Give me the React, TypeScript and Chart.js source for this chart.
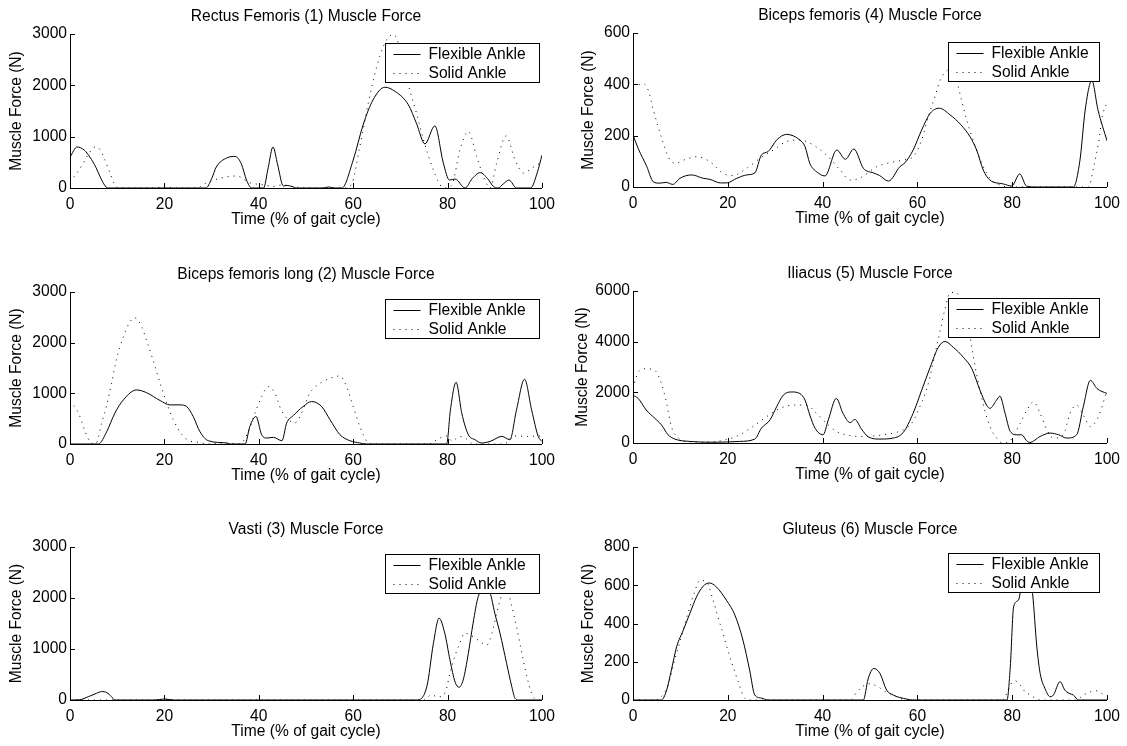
import React, { useEffect, useRef } from "react";
import { Chart, registerables } from "chart.js";

Chart.register(...registerables);

type Pt = [number, number];

const FONT = '"Liberation Sans", Arial, Helvetica, sans-serif';
Chart.defaults.font.family = FONT;

// ---------- labels ----------
const seriesNames = ["Flexible Ankle", "Solid Ankle"];
const xAxisLabel = "Time (% of gait cycle)";
const yAxisLabel = "Muscle Force (N)";
const xTickValues = [0, 20, 40, 60, 80, 100];
const panelTitles = [
  "Rectus Femoris (1) Muscle Force",
  "Biceps femoris (4) Muscle Force",
  "Biceps femoris long (2) Muscle Force",
  "Iliacus (5) Muscle Force",
  "Vasti (3) Muscle Force",
  "Gluteus (6) Muscle Force",
];
const yTickValues = [
  [0, 1000, 2000, 3000],
  [0, 200, 400, 600],
  [0, 1000, 2000, 3000],
  [0, 2000, 4000, 6000],
  [0, 1000, 2000, 3000],
  [0, 200, 400, 600, 800],
];

// ---------- data: [time %, force N] ----------
const rectusFlexible: Pt[] = [
  [0, 600], [1.5, 800], [3, 740], [4.2, 605], [5.5, 400], [6.4, 215], [7.3, 60], [8, 0],
  [28.8, 0], [30, 180], [31, 410], [33.2, 585], [35, 615], [36.3, 470], [37.4, 155], [38.5, 0],
  [41, 0], [42, 400], [43, 800], [44, 450], [45.2, 40], [46, 50], [47, 30], [48, 0],
  [53.5, 0], [54.8, 20], [56, 0], [57.6, 0], [60, 545], [62.1, 1230], [64.2, 1716], [66.7, 1963],
  [68.9, 1880], [71.7, 1620], [73.4, 1260], [75.2, 860], [77.3, 1210], [79.1, 485], [80.4, 155],
  [81.6, 175], [83.7, 0], [85.2, 180], [86.9, 300], [88.5, 180], [89.7, 30], [90.7, 0], [91.8, 80],
  [93, 155], [94.6, 0], [97.6, 0], [99, 300], [100, 640],
];
const rectusSolid: Pt[] = [
  [0, 120], [1.4, 287], [2.8, 482], [3.8, 644], [5.3, 800], [6.4, 741], [7.4, 546], [8.5, 287],
  [9.5, 59], [10.5, 0], [18, 0], [20, 30], [22, 0], [27, 0], [28.4, 78], [31.8, 189], [35.3, 234],
  [38.1, 103], [41, 60], [43, 30], [45, 60], [47, 30], [50, 0], [58, 0], [59.6, 65], [61.4, 805],
  [63.2, 1655], [65, 2366], [66.7, 2825], [68.5, 2990], [70, 2700], [71.6, 2040], [73.4, 1460],
  [74.9, 935], [76.6, 450], [78.4, 60], [79.5, 0], [81, 80], [82.6, 740], [84.4, 1100], [86.2, 600],
  [87.9, 155], [89, 0], [90.4, 485], [92.4, 1015], [94.3, 545], [96.1, 290], [98, 400], [100, 500],
];

const bicepsFlexible: Pt[] = [
  [0, 203], [1.1, 150], [2.9, 80], [4.3, 20], [5.6, 15], [7, 18], [8.4, 10], [9.9, 34], [12.4, 47],
  [14.8, 34], [16.2, 30], [18.4, 16], [19.8, 16], [21.9, 34], [24, 47], [25.7, 55], [27.1, 125],
  [28.5, 138], [30.3, 183], [32.4, 205], [35.2, 183], [36.3, 157], [37.3, 92], [38.7, 60],
  [40.5, 43], [43, 144], [44.8, 108], [46.6, 148], [48.6, 73], [50.7, 55], [52, 45], [53.9, 23],
  [56.3, 79], [57.4, 95], [59.1, 144], [60.9, 222], [62.7, 287], [64.6, 307], [66.9, 281],
  [69.2, 242], [71.1, 196], [72.5, 144], [73.9, 66], [75.3, 27], [78.1, 12], [79.9, 4], [81.6, 51],
  [83, 4], [85, 0], [92.9, 0], [94.3, 105], [95.4, 300], [96.8, 415], [98.1, 300], [100, 180],
];
const bicepsSolid: Pt[] = [
  [0, 391], [2.2, 402], [3.2, 378], [4.3, 300], [5.3, 235], [6.4, 170], [7.4, 118], [8.9, 92],
  [10.7, 105], [13.4, 118], [16.2, 99], [19, 53], [21.1, 45], [24, 73], [26.8, 112], [29.6, 144],
  [32.4, 177], [35.2, 183], [38, 164], [40.8, 125], [43.7, 66], [45.8, 27], [47.9, 35], [51.4, 79],
  [54.2, 95], [57, 105], [59.1, 118], [60.9, 183], [62.3, 274], [63.7, 352], [64.8, 417], [66, 450],
  [67, 460], [68.3, 411], [69.3, 339], [70.4, 261], [71.5, 196], [72.5, 144], [73.9, 79],
  [75.6, 27], [77.4, 8], [79, 0], [96.1, 0], [97.2, 79], [98.3, 183], [99, 274], [100, 330],
];

const bflFlexible: Pt[] = [
  [0, 0], [6, 0], [7.8, 248], [9.5, 609], [11.3, 870], [14.1, 1067], [16.2, 1014], [19.1, 857],
  [21.2, 772], [23.3, 772], [24.7, 740], [26.1, 543], [27.5, 248], [29.3, 65], [33.2, 20], [34, 0],
  [37.1, 0], [38.1, 346], [39.4, 543], [40.6, 183], [41.7, 118], [43.1, 131], [44.9, 65],
  [45.9, 412], [47.3, 560], [49.4, 740], [51.2, 838], [53.3, 740], [55.1, 478], [57.2, 183],
  [59.3, 65], [61.4, 20], [62.7, 0], [79.8, 0], [80.6, 674], [81.8, 1218], [83, 609], [84.4, 183],
  [85.8, 85], [87.2, 20], [89, 51], [91.5, 150], [93.2, 85], [94.6, 674], [96.3, 1277], [97.8, 674],
  [99.2, 150], [100, 50],
];
const bflSolid: Pt[] = [
  [0, 850], [1.8, 609], [3.2, 248], [4.2, 51], [5.2, 0], [5.8, 60], [6.7, 412], [7.7, 740],
  [8.8, 1199], [9.8, 1657], [11.3, 2115], [12.7, 2410], [13.8, 2488], [15.2, 2312], [16.2, 2050],
  [17.6, 1657], [19.1, 1199], [20.5, 806], [21.9, 478], [23.7, 183], [25.1, 71], [27.5, 30], [29, 0],
  [33, 20], [36, 0], [37.8, 248], [39.2, 609], [40.6, 935], [42, 1132], [43.4, 1002], [44.7, 680],
  [46.3, 478], [47.7, 420], [48.8, 560], [50.8, 1002], [53, 1199], [55.1, 1297], [57.2, 1342],
  [58.6, 1132], [60, 740], [61.4, 346], [62.9, 51], [64, 0], [76, 0], [78, 100], [79.8, 160],
  [81, 60], [82.5, 150], [84, 100], [85.5, 0], [92, 0], [94, 160], [97, 150], [100, 160],
];

const iliacusFlexible: Pt[] = [
  [0, 1887], [1.1, 1758], [2.8, 1301], [4.6, 976], [6, 715], [7.4, 324], [8.8, 156], [12, 62],
  [16.9, 30], [22.5, 62], [25.7, 156], [27.1, 586], [28.9, 910], [30.3, 1430], [31.7, 1887],
  [33.4, 2015], [35.2, 1953], [36.3, 1691], [37.3, 1105], [38.4, 586], [40.1, 324], [41.2, 910],
  [42.9, 1758], [44.3, 1172], [45.8, 805], [46.8, 930], [48.2, 550], [49.7, 234], [52.1, 156],
  [54.9, 195], [57, 414], [59.1, 1172], [60.9, 2082], [62.7, 2992], [64.4, 3773], [65.8, 4008],
  [67.6, 3773], [69.7, 3383], [71.5, 2930], [73.2, 2082], [74.6, 1496], [75.3, 1367], [76.7, 1691],
  [77.4, 1848], [78.5, 1172], [79.6, 453], [81, 324], [82, 324], [83, 100], [83.7, 20], [85.9, 258],
  [88, 391], [89.8, 324], [91.5, 195], [93.6, 324], [95, 1430], [96.5, 2473], [97.9, 2148],
  [100, 1953],
];
const iliacusSolid: Pt[] = [
  [0, 2148], [0.7, 2600], [1.4, 2863], [2.8, 2930], [4.6, 2863], [6, 2344], [7.1, 1562], [8.1, 648],
  [9.6, 195], [11, 60], [15, 40], [19.6, 130], [22.5, 324], [25.3, 648], [28.2, 1041], [31, 1367],
  [33.8, 1496], [36.6, 1496], [38.7, 1172], [40.8, 781], [42.9, 453], [45, 324], [47.8, 258],
  [51, 280], [53, 330], [54.9, 391], [57, 520], [58.8, 781], [60.5, 1430], [62.3, 2344],
  [63.7, 3515], [64.8, 4425], [65.8, 5273], [66.9, 5922], [68, 5950], [69.5, 5500], [70.8, 4555],
  [71.5, 3773], [72.2, 2992], [73.2, 2082], [74.2, 1301], [75.3, 648], [76.7, 195], [78, 0],
  [79.6, 100], [81.7, 781], [83.1, 1301], [84.5, 1625], [85.9, 1172], [87.3, 520], [88.7, 195],
  [90.8, 324], [92.2, 1172], [93.6, 1496], [95, 1105], [96.5, 648], [98.2, 1041], [100, 2082],
];

const vastiFlexible: Pt[] = [
  [0, 0], [2, 5], [3.9, 65], [5.6, 131], [6.7, 165], [7.8, 144], [8.8, 65], [9.5, 0], [18, 0],
  [20, 20], [22, 0], [73.4, 0], [75.6, 262], [77, 1114], [78.2, 1605], [79.4, 1310], [80.5, 786],
  [81.6, 350], [82.4, 250], [83.3, 393], [84.4, 917], [85.4, 1507], [86.5, 2030], [88, 2200],
  [89, 2100], [90, 1703], [91.1, 1310], [92.5, 721], [93.6, 262], [94.3, 30], [95, 0], [100, 0],
];
const vastiSolid: Pt[] = [
  [0, 0], [18, 0], [20, 15], [22, 0], [75, 0], [76.5, 100], [78, 60], [79.5, 150], [80.5, 524],
  [81.5, 851], [82.6, 1114], [83.6, 1310], [85.4, 1244], [86.9, 1146], [88.3, 1081], [89.4, 1310],
  [90.4, 1703], [91.5, 2063], [92.5, 2200], [93.6, 1833], [94.6, 1440], [95.6, 982], [96.8, 458],
  [97.8, 131], [98.9, 0], [100, 0],
];

const gluteusFlexible: Pt[] = [
  [0, 0], [6, 0], [7.1, 52], [8.1, 157], [9.2, 278], [10.6, 365], [12, 453], [13.4, 539],
  [14.8, 595], [16.1, 612], [17.6, 591], [19.7, 522], [21.5, 444], [23.2, 313], [24.6, 157],
  [25.7, 26], [27.1, 10], [28.5, 0], [48.6, 0], [49.6, 110], [50.8, 165], [52.1, 139], [53.5, 52],
  [54.9, 26], [57.7, 5], [59, 0], [78.9, 0], [79.6, 174], [80.3, 487], [81.3, 522], [82, 600],
  [83.2, 720], [84.3, 557], [85.2, 278], [85.9, 139], [86.9, 61], [88, 17], [88.7, 26], [90.1, 96],
  [91.1, 52], [92, 35], [92.9, 26], [94, 0], [100, 0],
];
const gluteusSolid: Pt[] = [
  [0, 0], [5, 0], [6, 17], [7.4, 78], [8.8, 209], [10.2, 330], [11.6, 453], [13, 565], [14.1, 626],
  [15.5, 618], [16.9, 522], [17.9, 435], [19, 348], [20, 261], [21.1, 174], [22.2, 96], [23.2, 26],
  [24.2, 0], [46, 0], [47.1, 38], [48.9, 78], [50, 85], [51.6, 70], [53.3, 43], [54.9, 26],
  [56.3, 9], [57.5, 0], [78, 0], [79, 43], [79.6, 78], [80.6, 100], [81.7, 78], [82.4, 52],
  [83.8, 26], [86, 0], [93.5, 0], [95, 26], [96.5, 43], [97.9, 48], [99.5, 26], [100, 25],
];

const flexibleSeries = [rectusFlexible, bicepsFlexible, bflFlexible, iliacusFlexible, vastiFlexible, gluteusFlexible];
const solidSeries = [rectusSolid, bicepsSolid, bflSolid, iliacusSolid, vastiSolid, gluteusSolid];

// ---------- layout (pixels) ----------
type Layout = {
  left: number; top: number; w: number; h: number;
  legRight: number; legW: number; legTop: number; yLab: number;
};
const layouts: Layout[] = [
  { left: 70, top: 34, w: 472, h: 154, legRight: 3, legW: 154, legTop: 9, yLab: 53 },
  { left: 633, top: 33, w: 474, h: 154, legRight: 8, legW: 151, legTop: 9, yLab: 44 },
  { left: 70, top: 292, w: 472, h: 152, legRight: 3, legW: 154, legTop: 7, yLab: 53 },
  { left: 633, top: 291, w: 474, h: 152, legRight: 8, legW: 151, legTop: 7, yLab: 50 },
  { left: 70, top: 547, w: 472, h: 153, legRight: 3, legW: 154, legTop: 7, yLab: 53 },
  { left: 633, top: 547, w: 474, h: 153, legRight: 8, legW: 151, legTop: 6, yLab: 44 },
];
const PAD_L = 70, PAD_T = 34, PAD_R = 20, PAD_B = 46;
const FS = 15.6;
const DOTS = [1, 5];

function Panel({ idx }: { idx: number }) {
  const ref = useRef<HTMLCanvasElement>(null);
  const L = layouts[idx];
  const cw = PAD_L + L.w + PAD_R;
  const ch = PAD_T + L.h + PAD_B;
  useEffect(() => {
    const yTicks = yTickValues[idx];
    const decor = {
      id: "decor" + idx,
      afterDraw(chart: any) {
        const { ctx, chartArea: a } = chart;
        const xs = chart.scales.x;
        const ys = chart.scales.y;
        ctx.save();
        ctx.strokeStyle = "#000";
        ctx.lineWidth = 1;
        ctx.setLineDash([]);
        ctx.beginPath();
        for (const v of xTickValues) {
          const px = Math.round(xs.getPixelForValue(v)) + 0.5;
          ctx.moveTo(px, Math.round(a.bottom));
          ctx.lineTo(px, Math.round(a.bottom) - 5);
        }
        for (const v of yTicks) {
          const py = Math.round(ys.getPixelForValue(v)) + 0.5;
          ctx.moveTo(Math.round(a.left), py);
          ctx.lineTo(Math.round(a.left) + 5, py);
        }
        ctx.stroke();
        ctx.fillStyle = "#000";
        ctx.font = `${FS}px ${FONT}`;
        ctx.textAlign = "center";
        ctx.textBaseline = "middle";
        const cx = (a.left + a.right) / 2;
        ctx.fillText(panelTitles[idx], cx, a.top - 17);
        ctx.fillText(xAxisLabel, cx, a.bottom + 32);
        ctx.save();
        ctx.translate(a.left - L.yLab, (a.top + a.bottom) / 2);
        ctx.rotate(-Math.PI / 2);
        ctx.fillText(yAxisLabel, 0, 0);
        ctx.restore();
        // legend
        const bx = Math.round(a.right - L.legRight - L.legW) + 0.5;
        const by = Math.round(a.top + L.legTop) + 0.5;
        const bh = 39;
        ctx.fillStyle = "#fff";
        ctx.fillRect(bx, by, L.legW, bh);
        ctx.strokeStyle = "#000";
        ctx.strokeRect(bx, by, L.legW, bh);
        const r1 = Math.round(by + 10) + 0.5;
        const r2 = Math.round(by + 29) + 0.5;
        ctx.beginPath();
        ctx.moveTo(bx + 8, r1);
        ctx.lineTo(bx + 35, r1);
        ctx.stroke();
        ctx.setLineDash(DOTS);
        ctx.beginPath();
        ctx.moveTo(bx + 8, r2);
        ctx.lineTo(bx + 35, r2);
        ctx.stroke();
        ctx.setLineDash([]);
        ctx.fillStyle = "#000";
        ctx.textAlign = "left";
        ctx.fillText(seriesNames[0], bx + 43, r1 + 0.5);
        ctx.fillText(seriesNames[1], bx + 43, r2 + 0.5);
        ctx.restore();
      },
    };
    const toXY = (arr: Pt[]) => arr.map(([x, y]) => ({ x, y }));
    const chart = new Chart(ref.current as HTMLCanvasElement, {
      type: "line",
      data: {
        datasets: [
          {
            label: seriesNames[0],
            data: toXY(flexibleSeries[idx]),
            borderColor: "#000",
            borderWidth: 1,
            pointRadius: 0,
            cubicInterpolationMode: "monotone",
          },
          {
            label: seriesNames[1],
            data: toXY(solidSeries[idx]),
            borderColor: "#000",
            borderWidth: 1,
            borderDash: DOTS,
            pointRadius: 0,
            cubicInterpolationMode: "monotone",
          },
        ],
      },
      options: {
        animation: false,
        responsive: false,
        events: [],
        layout: { padding: { top: PAD_T, left: 0, right: PAD_R, bottom: 0 } },
        plugins: { legend: { display: false }, title: { display: false }, tooltip: { enabled: false } },
        scales: {
          x: {
            type: "linear",
            min: 0,
            max: 100,
            afterFit: (s: any) => { s.height = PAD_B; },
            afterBuildTicks: (s: any) => { s.ticks = xTickValues.map((v) => ({ value: v })); },
            grid: { display: false, drawTicks: false },
            border: { display: true, color: "#000", width: 1 },
            ticks: {
              color: "#000",
              font: { size: FS, family: FONT },
              padding: 7,
              maxRotation: 0,
              autoSkip: false,
              callback: (v: any) => String(v),
            },
          },
          y: {
            type: "linear",
            min: 0,
            max: yTicks[yTicks.length - 1],
            afterFit: (s: any) => { s.width = PAD_L; },
            afterBuildTicks: (s: any) => { s.ticks = yTicks.map((v) => ({ value: v })); },
            grid: { display: false, drawTicks: false },
            border: { display: true, color: "#000", width: 1 },
            ticks: {
              color: "#000",
              font: { size: FS, family: FONT },
              padding: 3,
              autoSkip: false,
              callback: (v: any) => String(v),
            },
          },
        },
      },
      plugins: [decor],
    } as any);
    return () => chart.destroy();
  }, [idx]);
  return (
    <canvas
      ref={ref}
      width={cw}
      height={ch}
      style={{
        position: "absolute",
        left: L.left - PAD_L,
        top: L.top - PAD_T,
        width: cw,
        height: ch,
      }}
    />
  );
}

export default function App() {
  return (
    <div
      style={{
        position: "absolute",
        left: 0,
        top: 0,
        width: 1127,
        height: 746,
        background: "#fff",
        overflow: "hidden",
      }}
    >
      {layouts.map((_, i) => (
        <Panel key={i} idx={i} />
      ))}
    </div>
  );
}
